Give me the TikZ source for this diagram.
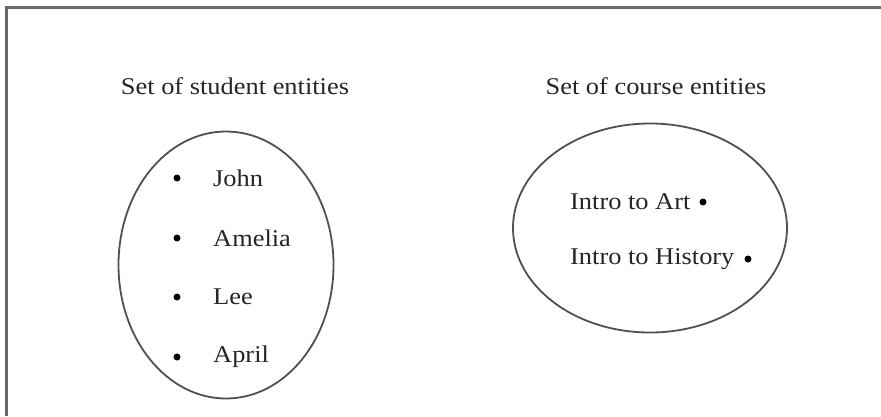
\documentclass[tikz,border=0pt]{standalone}
\usepackage{fontspec}
\setmainfont[FakeStretch=1.1]{Liberation Serif}
\usetikzlibrary{shapes.geometric}
\definecolor{framegray}{HTML}{6A6A6A}
\definecolor{linegray}{HTML}{505050}
\begin{document}
\begin{tikzpicture}[x=1pt,y=-1pt,
  txt/.style={inner sep=0pt,font=\fontsize{24}{26}\selectfont,text=black!85},
  setshape/.style={draw=linegray,line width=1.8pt,ellipse,inner sep=0pt},
  dotmark/.style={circle,fill=black,inner sep=0pt,minimum size=7pt}]
\useasboundingbox (0,0) rectangle (881,416);
\fill[white] (0,0) rectangle (881,416);
% frame (top and left edges only)
\coordinate (fl) at (6.5,416);
\coordinate (ftl) at (6.5,7.5);
\coordinate (fr) at (881,7.5);
\draw[framegray,line width=2.6pt] (fl) -- (ftl) -- (fr);
% titles
\node[txt] (t1) at (235,86) {Set of student entities};
\node[txt] (t2) at (656,86) {Set of course entities};
% ellipses
\node[setshape,minimum width=215pt,minimum height=267pt] (students) at (226,265) {};
\node[setshape,minimum width=274pt,minimum height=209pt] (courses) at (650,228) {};
% students
\foreach \n/\y/\lab in {john/178/John,amelia/238/Amelia,lee/297/Lee,april/357/April}{
  \node[dotmark] (d\n) at (177,\y) {};
  \node[txt,anchor=west] (\n) at (213,\y) {\lab};
}
% courses
\node[txt,anchor=west] (art) at (570,202) {Intro to Art};
\node[dotmark] (dart) at (703,202) {};
\node[txt,anchor=west] (hist) at (570,259) {Intro to History};
\node[dotmark] (dhist) at (748,259) {};
\end{tikzpicture}
\end{document}
